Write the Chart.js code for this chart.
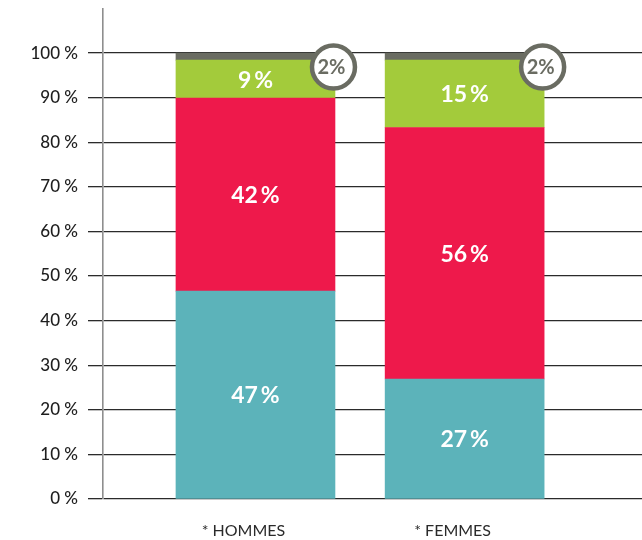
<!DOCTYPE html>
<html><head><meta charset="utf-8">
<script src="https://cdn.jsdelivr.net/npm/chart.js@4/dist/chart.umd.min.js"></script>
<style>html,body{margin:0;padding:0;background:#fff}#wrap{width:642px;height:540px;position:relative}</style>
</head><body><div id="wrap"><canvas id="c"></canvas></div>
<script>
// ---- data ----
const categories = ['* HOMMES', '* FEMMES'];
const positions = [1, 2];
const tealValues = [46.6, 26.9];
const redValues = [43.3, 56.4];
const greenValues = [8.5, 15.1];
const grayValues = [1.6, 1.6];
const tealLabels = ['47\u2009%', '27\u2009%'];
const redLabels = ['42\u2009%', '56\u2009%'];
const greenLabels = ['9\u2009%', '15\u2009%'];
const grayLabels = ['2%', '2%'];
const yTickValues = [0, 10, 20, 30, 40, 50, 60, 70, 80, 90, 100];
const yTickLabels = ['0 %', '10 %', '20 %', '30 %', '40 %', '50 %', '60 %', '70 %', '80 %', '90 %', '100 %'];

const FONT = 'Lato, "Open Sans", sans-serif';

function pts(vals) { return vals.map((v, i) => ({ x: positions[i], y: v })); }

const inBarPlugin = {
  id: 'inBar',
  afterDatasetsDraw(chart) {
    const ctx = chart.ctx;
    ctx.save();
    chart.data.datasets.forEach((ds, di) => {
      const meta = chart.getDatasetMeta(di);
      if (ds.inLabels) {
        meta.data.forEach((el, i) => {
          ctx.fillStyle = '#ffffff';
          ctx.font = 'bold 23px ' + FONT;
          ctx.textAlign = 'center';
          ctx.textBaseline = 'middle';
          ctx.fillText(ds.inLabels[i], el.x, (el.y + el.base) / 2 + 1);
        });
      }
      if (ds.circleLabels) {
        meta.data.forEach((el, i) => {
          const cx = el.x + el.width / 2 - 1.5;
          const cy = el.y + 14;
          ctx.beginPath();
          ctx.arc(cx, cy, 21.5, 0, Math.PI * 2);
          ctx.fillStyle = '#ffffff';
          ctx.fill();
          ctx.lineWidth = 4.5;
          ctx.strokeStyle = '#6a6c62';
          ctx.stroke();
          ctx.fillStyle = '#6a6c62';
          ctx.font = 'bold 20px ' + FONT;
          ctx.textAlign = 'center';
          ctx.textBaseline = 'middle';
          ctx.fillText(ds.circleLabels[i], cx - 2, cy + 1);
        });
      }
    });
    ctx.restore();
  }
};

new Chart(document.getElementById('c'), {
  type: 'bar',
  data: {
    datasets: [
      { data: pts(tealValues), backgroundColor: '#5cb3ba', inLabels: tealLabels },
      { data: pts(redValues), backgroundColor: '#ee194b', inLabels: redLabels },
      { data: pts(greenValues), backgroundColor: '#a3cb3b', inLabels: greenLabels },
      { data: pts(grayValues), backgroundColor: '#6a6c62', circleLabels: grayLabels }
    ]
  },
  options: {
    responsive: true,
    maintainAspectRatio: false,
    animation: false,
    barThickness: 159,
    layout: { padding: { top: 9, left: 0, right: 0, bottom: 0 } },
    plugins: { legend: { display: false }, tooltip: { enabled: false } },
    scales: {
      x: {
        type: 'linear',
        stacked: true,
        offset: false,
        min: 0.271,
        max: 2.848,
        grid: { display: false, drawTicks: false },
        border: { display: false },
        afterBuildTicks(scale) { scale.ticks = positions.map(v => ({ value: v })); },
        afterFit(scale) { scale.height = 41; scale.paddingLeft = 0; scale.paddingRight = 0; },
        ticks: {
          padding: 22,
          labelOffset: -12,
          color: '#2a2a2a',
          font: { family: FONT, size: 16 },
          callback(v) { const i = positions.indexOf(v); return i >= 0 ? categories[i] : ''; }
        }
      },
      y: {
        stacked: true,
        min: 0,
        max: 109.87,
        grid: { color: '#2b2b2b', lineWidth: 1.3, tickLength: 15, drawTicks: true },
        border: { display: true, color: '#8e8e8e', width: 1.6 },
        afterBuildTicks(scale) { scale.ticks = yTickValues.map(v => ({ value: v })); },
        afterFit(scale) { scale.width = 103; scale.paddingTop = 0; scale.paddingBottom = 0; },
        ticks: {
          padding: 10,
          color: '#1e1e1e',
          font: { family: FONT, size: 17, weight: '500' },
          callback(v) { const i = yTickValues.indexOf(v); return i >= 0 ? yTickLabels[i] : ''; }
        }
      }
    }
  },
  plugins: [inBarPlugin]
});
</script>
</body></html>
